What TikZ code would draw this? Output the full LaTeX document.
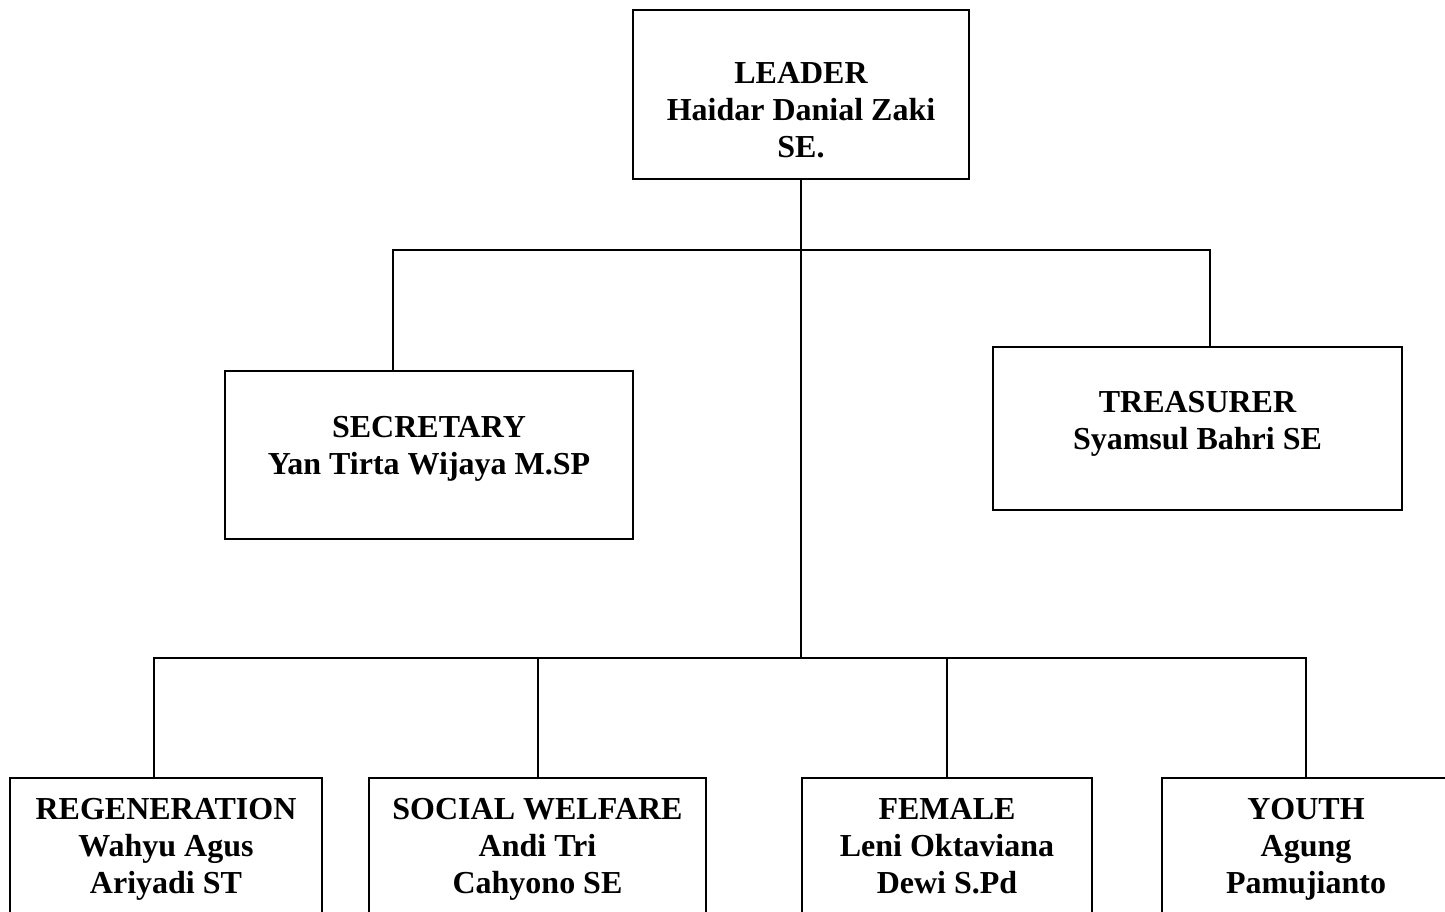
\documentclass[tikz,border=0pt]{standalone}
\usepackage{fontspec}
\setmainfont{Liberation Serif}
\usetikzlibrary{positioning,calc}
\tikzset{%
  % Specifications for style of nodes:
    box/.style={draw, line width=2pt, rectangle, inner sep=0pt, outer sep=0pt},
    txt/.style={align=center, inner sep=0pt, font=\bfseries\fontsize{32}{37}\selectfont,
        execute at begin node=\strut, execute at end node=\strut},
    link/.style={line width=2pt},
}

\begin{document}
\begin{tikzpicture}[x=1pt, y=-1pt]
    \useasboundingbox (0,0) rectangle (1445,912);
    \clip (0,0) rectangle (1445,912);
    % boxes
    \node[box, minimum width=336pt, minimum height=169pt] (leader) at (801,94.5) {};
    \node[box, minimum width=408pt, minimum height=168pt] (sec) at (429,455) {};
    \node[box, minimum width=409pt, minimum height=163pt] (tre) at (1197.5,428.5) {};
    \node[box, minimum width=312pt, minimum height=200pt] (regen) at (166,878) {};
    \node[box, minimum width=337pt, minimum height=200pt] (social) at (537.5,878) {};
    \node[box, minimum width=290pt, minimum height=200pt] (female) at (947,878) {};
    \node[box, minimum width=288pt, minimum height=200pt] (youth) at (1306,878) {};
    % texts
    \node[txt] (leadertxt) at (801,115) {LEADER\\Haidar Danial Zaki\\SE.};
    \node[txt] (sectxt) at (429,450.5) {SECRETARY\\Yan Tirta Wijaya M.SP};
    \node[txt] (tretxt) at (1197.5,425.5) {TREASURER\\Syamsul Bahri SE};
    \node[txt] (regentxt) at (166,851) {REGENERATION\\Wahyu Agus\\Ariyadi ST};
    \node[txt] (socialtxt) at (537.5,851) {SOCIAL WELFARE\\Andi Tri\\Cahyono SE};
    \node[txt] (femaletxt) at (947,851) {FEMALE\\Leni Oktaviana\\Dewi S.Pd};
    \node[txt] (youthtxt) at (1306,851) {YOUTH\\Agung\\Pamujianto};
    % junctions
    \coordinate (upL) at (393,250);
    \coordinate (upR) at (1210,250);
    \coordinate (lowL) at (154,658);
    \coordinate (lowR) at (1306,658);
    % connectors
    \draw[link] (leader.south) -- (leader.south |- lowL);
    \draw[link] (sec.north -| upL) -- (upL) -- (upR) -- (tre.north -| upR);
    \draw[link] (regen.north -| lowL) -- (lowL) -- (lowR) -- (youth.north -| lowR);
    \draw[link] (social.north) -- (social.north |- lowL);
    \draw[link] (female.north) -- (female.north |- lowL);
\end{tikzpicture}
\end{document}
